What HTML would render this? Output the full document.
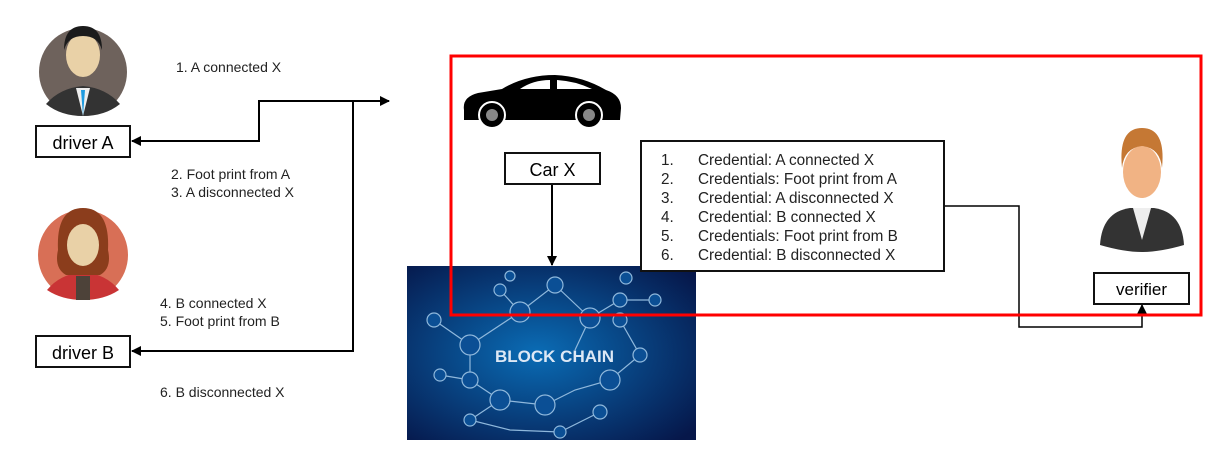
<!DOCTYPE html>
<html><head><meta charset="utf-8"><style>
body{margin:0;background:#fff;width:1206px;height:452px;overflow:hidden;position:relative;font-family:"Liberation Sans",sans-serif}
.t{position:absolute;font-size:14px;color:#222;line-height:18px;white-space:nowrap}
.box{position:absolute;border:2px solid #111;background:#fff;box-sizing:border-box;font-size:18px;text-align:center}
</style></head><body>
<svg width="1206" height="452" style="position:absolute;left:0;top:0">
<defs>
<marker id="a" markerWidth="10" markerHeight="10" refX="9" refY="5" orient="auto" markerUnits="userSpaceOnUse"><path d="M0,0L10,5L0,10z" fill="#000"/></marker>
<radialGradient id="bg" cx="45%" cy="50%" r="70%"><stop offset="0" stop-color="#0a6cb5"/><stop offset="1" stop-color="#06174a"/></radialGradient>
</defs>
<circle cx="83" cy="72" r="44" fill="#6e625c"/>
<path d="M46,104 Q60,88 83,86 Q106,88 120,104 Q105,116 83,116 Q61,116 46,104z" fill="#333"/>
<path d="M76,88 L83,116 L90,88z" fill="#eee"/><path d="M81,90 L83,116 L85,90z" fill="#1e9be0"/>
<ellipse cx="83" cy="55" rx="17" ry="22" fill="#e9d1a7"/>
<path d="M64,50 Q64,26 83,26 Q102,26 102,50 Q98,36 83,36 Q68,36 64,50z" fill="#1b1b1b"/>
<circle cx="83" cy="255" r="45" fill="#d86f56"/>
<path d="M47,290 Q60,274 83,272 Q106,274 119,290 Q104,300 83,300 Q62,300 47,290z" fill="#c93435"/>
<rect x="76" y="276" width="14" height="24" fill="#4d4239"/>
<path d="M58,250 Q56,208 83,208 Q110,208 108,250 Q112,268 100,275 L66,275 Q54,268 58,250z" fill="#8b3d1c"/>
<ellipse cx="83" cy="245" rx="16" ry="21" fill="#e9d1a7"/>
<g fill="none" stroke="#000" stroke-width="2">
<path d="M387,101 L259,101 L259,141 L132,141" marker-end="url(#a)"/>
<path d="M353,101 L389,101" marker-end="url(#a)"/>
<path d="M353,101 L353,351 L132,351" marker-end="url(#a)"/>
<path d="M552,184 L552,265" marker-end="url(#a)"/>
<path d="M944,206 L1019,206 L1019,327 L1142,327 L1142,305" stroke-width="1.5" marker-end="url(#a)"/>
</g>
<path d="M464,110 Q462,97 478,93 L502,89 Q525,75 555,75 Q582,76 606,90 Q621,95 621,108 L620,120 L464,120z" fill="#000"/>
<path d="M520,89 Q533,80 550,80 L550,89z M557,80 Q575,81 592,89 L557,89z" fill="#fff"/>
<circle cx="492" cy="115" r="13" fill="#000" stroke="#fff" stroke-width="2"/><circle cx="492" cy="115" r="6" fill="#888"/>
<circle cx="589" cy="115" r="13" fill="#000" stroke="#fff" stroke-width="2"/><circle cx="589" cy="115" r="6" fill="#888"/>
<rect x="407" y="266" width="289" height="174" fill="url(#bg)"/>
<g stroke="#8fb8dc" stroke-width="1.2" fill="#0b4f95">
<path d="M434,320 L470,345 L520,312 L555,285 L590,318 L620,300 L655,300 M470,345 L470,380 L500,400 L545,405 L575,390 L610,380 L640,355 L620,320 M500,400 L470,420 L510,430 L560,432 L600,412 M440,375 L470,380 M520,312 L500,290 M590,318 L575,350" fill="none"/>
<circle cx="434" cy="320" r="7"/><circle cx="470" cy="345" r="10"/><circle cx="520" cy="312" r="10"/><circle cx="555" cy="285" r="8"/><circle cx="590" cy="318" r="10"/><circle cx="620" cy="300" r="7"/><circle cx="655" cy="300" r="6"/><circle cx="470" cy="380" r="8"/><circle cx="500" cy="400" r="10"/><circle cx="545" cy="405" r="10"/><circle cx="610" cy="380" r="10"/><circle cx="640" cy="355" r="7"/><circle cx="620" cy="320" r="7"/><circle cx="470" cy="420" r="6"/><circle cx="560" cy="432" r="6"/><circle cx="600" cy="412" r="7"/><circle cx="440" cy="375" r="6"/><circle cx="500" cy="290" r="6"/><circle cx="510" cy="276" r="5"/><circle cx="626" cy="278" r="6"/>
</g>
<text x="495" y="362" font-family="Liberation Sans" font-weight="bold" font-size="17" fill="#dde8f5">BLOCK CHAIN</text>
<rect x="451" y="56" width="750" height="259" fill="none" stroke="#f00" stroke-width="3"/>
<path d="M1100,245 Q1102,212 1130,208 L1154,208 Q1182,212 1184,245 Q1160,252 1142,252 Q1124,252 1100,245z" fill="#333"/>
<path d="M1133,208 L1142,240 L1151,208z" fill="#eee"/>
<ellipse cx="1142" cy="172" rx="19" ry="26" fill="#f1b384"/>
<path d="M1122,168 Q1118,128 1142,128 Q1166,128 1162,168 Q1160,148 1142,146 Q1124,148 1122,168z" fill="#c57834"/>
</svg>
<div class="t" style="left:176px;top:58px">1. A connected X</div>
<div class="t" style="left:171px;top:165px">2. Foot print from A<br>3. A disconnected X</div>
<div class="t" style="left:160px;top:294px">4. B connected X<br>5. Foot print from B</div>
<div class="t" style="left:160px;top:383px">6. B disconnected X</div>
<div class="box" style="left:35px;top:125px;width:96px;height:33px;line-height:32px">driver A</div>
<div class="box" style="left:35px;top:335px;width:96px;height:33px;line-height:32px">driver B</div>
<div class="box" style="left:504px;top:152px;width:97px;height:33px;line-height:32px">Car X</div>
<div class="box" style="left:1093px;top:272px;width:97px;height:33px;line-height:32px;font-size:17px">verifier</div>
<div class="box" style="left:640px;top:140px;width:305px;height:132px;text-align:left;font-size:15.3px;line-height:19px;padding-top:9px;padding-left:19px;color:#222">
<div><span style="display:inline-block;width:37px">1.</span>Credential: A connected X</div>
<div><span style="display:inline-block;width:37px">2.</span>Credentials: Foot print from A</div>
<div><span style="display:inline-block;width:37px">3.</span>Credential: A disconnected X</div>
<div><span style="display:inline-block;width:37px">4.</span>Credential: B connected X</div>
<div><span style="display:inline-block;width:37px">5.</span>Credentials: Foot print from B</div>
<div><span style="display:inline-block;width:37px">6.</span>Credential: B disconnected X</div>
</div>
</body></html>
